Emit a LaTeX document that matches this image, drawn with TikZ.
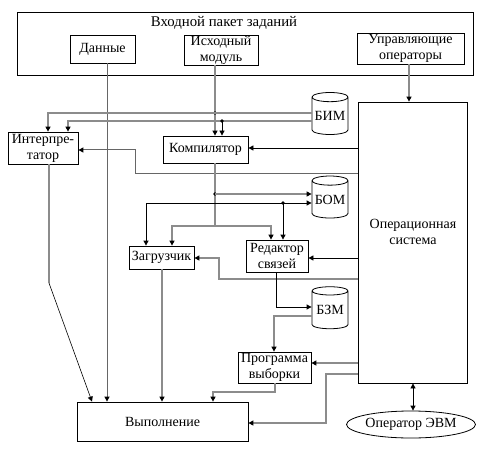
\documentclass[tikz,border=0pt]{standalone}
\usepackage{fontspec}
\setmainfont{Liberation Serif}
\newfontfamily\myserif{Liberation Serif}
\usetikzlibrary{arrows.meta,shapes.geometric}
\tikzset{
  box/.style={draw, line width=0.8pt, inner sep=0pt, align=center, font=\myserif\fontsize{14}{16}\selectfont},
  txt/.style={inner sep=0pt, align=center, font=\myserif\fontsize{14}{16}\selectfont},
  db/.style={draw, line width=0.8pt, cylinder, shape border rotate=90, aspect=0.3, minimum width=36pt, minimum height=42pt, inner sep=0pt, font=\myserif\fontsize{14}{16}\selectfont},
  gl/.style={draw=black!45, line width=1.1pt},
  gd/.style={draw=black!60, line width=1pt},
  bl/.style={draw=black, line width=0.8pt},
  arr/.style={-{Triangle[width=5pt,length=5pt,color=black]}},
  arrr/.style={{Triangle[width=5pt,length=5pt,color=black]}-{Triangle[width=5pt,length=5pt,color=black]}},
  dot/.style={fill=black}
}
\begin{document}
\begin{tikzpicture}[x=1pt,y=-1pt]
\useasboundingbox (0,0) rectangle (489,465);
% nodes
\node[box, minimum width=456pt, minimum height=63pt] (pkg) at (245,43.5) {};
\node[txt, font=\myserif\fontsize{14.8}{17}\selectfont] (pkgt) at (224,23) {Входной пакет заданий};
\node[box, minimum width=65pt, minimum height=28pt] (dan) at (102.5,49) {Данные};
\node[box, minimum width=74pt, minimum height=30pt] (ism) at (221,50) {Исходный\\модуль};
\node[box, minimum width=107pt, minimum height=31pt] (upr) at (410.5,48.5) {Управляющие\\операторы};
\node[box, minimum width=70pt, minimum height=32pt] (intr) at (43,148) {Интерпре-\\татор};
\node[box, minimum width=85pt, minimum height=27pt] (comp) at (205.5,149.5) {Компилятор};
\node[box, minimum width=109pt, minimum height=281pt] (os) at (412.5,242.5) {};
\node[txt] (ost) at (413,232) {Операционная\\система};
\node[box, minimum width=65pt, minimum height=23pt] (zag) at (161.5,257.5) {Загрузчик};
\node[box, minimum width=62pt, minimum height=32pt] (red) at (277,256) {Редактор\\связей};
\node[box, minimum width=73pt, minimum height=31pt] (prog) at (274.5,367.5) {Программа\\выборки};
\node[box, minimum width=171pt, minimum height=39pt] (vyp) at (162.5,421.5) {Выполнение};
\node[box, ellipse, minimum width=106pt, minimum height=27pt] (oper) at (411,424.5) {Оператор ЭВМ};
\node[db] (bim) at (330,116) {БИМ};
\node[db] (bom) at (330,199.5) {БОМ};
\node[db] (bzm) at (330,310) {БЗМ};
% connectors
\draw[gd,arr] (dan.south -| 107,0) -- (vyp.north -| 107,0);
\draw[gl,arr] (ism.south -| 215,0) -- (comp.north -| 215,0);
\fill[dot] (215,113) circle (1.8pt);
\draw[gl,arr] (bim.180 |- 0,113) -- (48,113) -- (intr.north -| 48,0);
\draw[gl,arr] (bim.180 |- 0,121) -- (68,121) -- (intr.north -| 68,0);
\fill[dot] (222,121) circle (1.8pt);
\draw[bl,arr] (222,121) -- (comp.north -| 222,0);
\draw[gl,arr] (upr.south -| 409,0) -- (os.north -| 409,0);
\draw[bl,arr] (os.west |- 0,148) -- (comp.east |- 0,148);
\draw[gd,arr] (os.west |- 0,173) -- (135,173) -- (135,150) -- (intr.east |- 0,150);
\draw[gl] (comp.south -| 215,0) -- (215,226);
\draw[gl,arr] (215,226) -- (172,226) -- (zag.north -| 172,0);
\draw[gl,arr] (215,226) -- (271,226) -- (red.north -| 271,0);
\fill[dot] (215,194) circle (1.8pt);
\draw[gl,arr] (215,194) -- (bom.180 |- 0,194);
\draw[bl,arrr] (zag.north -| 146,0) -- (146,203) -- (bom.180 |- 0,203);
\fill[dot] (283,203) circle (1.8pt);
\draw[bl,arr] (283,203) -- (red.north -| 283,0);
\draw[bl,arr] (os.west |- 0,258) -- (red.east |- 0,258);
\draw[gl,arr] (os.west |- 0,279) -- (219,279) -- (219,258) -- (zag.east |- 0,258);
\draw[bl,arr] (red.south -| 276,0) -- (276,307) -- (bzm.180 |- 0,307);
\draw[gl,arr] (bzm.180 |- 0,316) -- (274,316) -- (prog.north -| 274,0);
\draw[gl,arr] (os.west |- 0,363) -- (prog.east |- 0,363);
\draw[gl,arr] (os.west |- 0,374) -- (326,374) -- (326,423) -- (vyp.east |- 0,423);
\draw[gl,arr] (prog.south -| 275,0) -- (275,392) -- (213,392) -- (vyp.north -| 213,0);
\draw[gl,arr] (zag.south -| 162,0) -- (vyp.north -| 162,0);
\draw[gl] (intr.south -| 49,0) -- (49,283);
\draw[line width=0.6pt,arr] (49,283) -- (vyp.north -| 92,0);
\draw[bl,arrr] (os.south -| 413,0) -- (oper.north -| 413,0);
\end{tikzpicture}
\end{document}
